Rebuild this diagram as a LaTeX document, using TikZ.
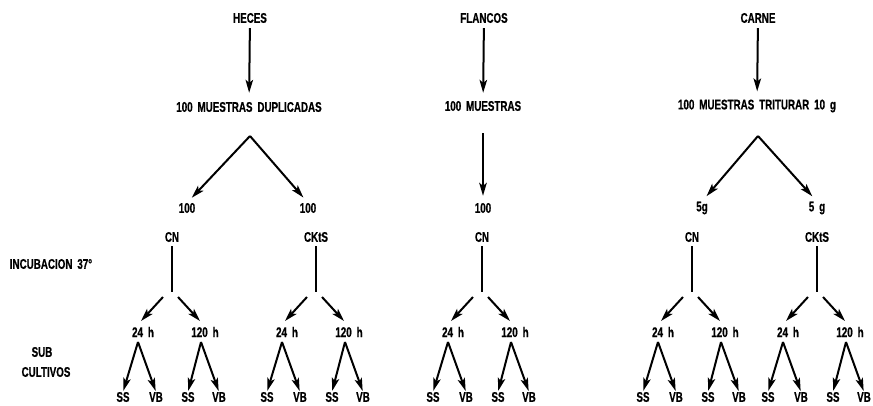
\documentclass[tikz,border=0pt]{standalone}
\usepackage{fontspec}
\newfontfamily\labfont{Liberation Sans}[FakeStretch=0.7,WordSpace=1.8,FakeBold=0.6]
\usetikzlibrary{arrows.meta,calc}
\tikzset{
  lab/.style={inner sep=0pt, font=\labfont\bfseries\fontsize{14}{16}\selectfont},
  arr/.style={line width=2pt, -{Stealth[length=13pt,width=7.5pt,inset=3pt]}},
  ln/.style={line width=2pt},
}
\newcommand\subtree[3]{% #1 name, #2 cx, #3 label
  \node[lab] (#1top) at (#2,237) {#3};
  \coordinate (#1bot) at (#2,292);
  \draw[ln,shorten <=4pt] (#1top) -- (#1bot);
  \coordinate (#1la) at (#2-9,297);
  \coordinate (#1ra) at (#2+6,297);
  \node[lab] (#1ta) at (#2-29,332) {24 h};
  \node[lab] (#1tb) at (#2+33,332) {120 h};
  \coordinate (#1lt) at (#2-31,321);
  \coordinate (#1rt) at (#2+28,321);
  \draw[arr] (#1la) -- (#1lt);
  \draw[arr] (#1ra) -- (#1rt);
  \coordinate (#1pa) at (#2-34,342);
  \coordinate (#1pb) at (#2+29,342);
  \node[lab] (#1s1) at (#2-49,397) {SS};
  \node[lab] (#1v1) at (#2-16,397) {VB};
  \node[lab] (#1s2) at (#2+16,397) {SS};
  \node[lab] (#1v2) at (#2+47,397) {VB};
  \draw[arr,shorten >=1pt] (#1pa) -- (#1s1.north);
  \draw[arr,shorten >=1pt] (#1pa) -- (#1v1.north);
  \draw[arr,shorten >=1pt] (#1pb) -- (#1s2.north);
  \draw[arr,shorten >=1pt] (#1pb) -- (#1v2.north);
}
\begin{document}
\begin{tikzpicture}[x=1pt,y=-1pt]
\useasboundingbox (0,0) rectangle (873,405);
% top level
\node[lab] (heces) at (250,18) {HECES};
\node[lab] (flancos) at (484,18) {FLANCOS};
\node[lab] (carne) at (758,18) {CARNE};
\node[lab] (m1) at (249,107) {100 MUESTRAS DUPLICADAS};
\node[lab] (m2) at (483,106) {100 MUESTRAS};
\node[lab] (m3) at (757,106) {100 MUESTRAS TRITURAR 10 g};
\draw[arr,shorten <=5pt,shorten >=9pt] (heces) -- (m1);
\draw[arr,shorten <=5pt,shorten >=8pt] (flancos) -- (m2);
\draw[arr,shorten <=5pt,shorten >=8pt] (carne) -- (m3);
% splits
\coordinate (ap1) at (250,136);
\coordinate (ap3) at (758,136);
\node[lab] (h1) at (187,208) {100};
\node[lab] (h2) at (308,208) {100};
\node[lab] (f1) at (483,208) {100};
\node[lab] (c1) at (702,208) {5g};
\node[lab] (c2) at (817,208) {5 g};
\draw[arr,shorten >=7pt] (ap1) -- (h1.north);
\draw[arr,shorten >=7pt] (ap1) -- (h2.north);
\draw[arr,shorten <=22pt,shorten >=7pt] (m2) -- (f1);
\draw[arr,shorten >=7pt] (ap3) -- (c1.north);
\draw[arr,shorten >=7pt] (ap3) -- (c2.north);
% left labels
\node[lab] (inc) at (51,264) {INCUBACION 37°};
\node[lab] (sub) at (42,352) {SUB};
\node[lab] (cult) at (46,372) {CULTIVOS};
% subtrees
\subtree{a}{172}{CN}
\subtree{b}{316}{CKtS}
\subtree{c}{482}{CN}
\subtree{d}{692}{CN}
\subtree{e}{817}{CKtS}
\end{tikzpicture}
\end{document}
